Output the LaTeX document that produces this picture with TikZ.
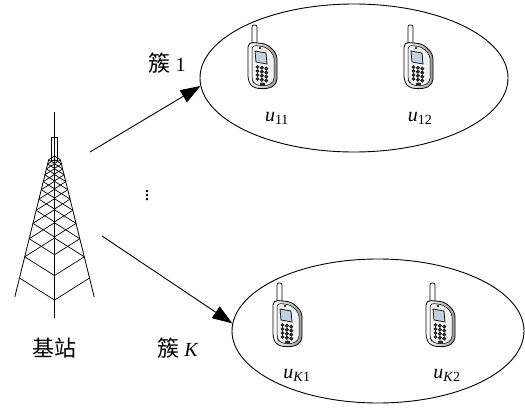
\documentclass[tikz,border=0pt]{standalone}
\usepackage{fontspec}
\setmainfont{Liberation Serif}
\newfontfamily\cjk[Scale=1.1]{Noto Sans CJK SC}
\usetikzlibrary{arrows.meta,shapes.geometric}

\definecolor{screenblue}{RGB}{196,208,220}
\definecolor{keygray}{RGB}{55,55,55}

\tikzset{
  cluster/.style={draw, ellipse, line width=0.9pt, minimum width=308pt, minimum height=148pt, inner sep=0pt},
  link/.style={line width=0.9pt, -{Triangle[length=20pt,width=14pt]}},
  lbl/.style={font=\fontsize{20}{24}\selectfont, inner sep=0pt},
  cellphone/.pic={
    % antenna
    \draw[line width=0.7pt, fill=white, rounded corners=2pt] (-10,-37) rectangle (-5,-17);
    % body, seen a little from the left
    \draw[line width=0.8pt, rounded corners=5pt, left color=white, right color=black!40]
      (-14,-20) -- (5,-18) -- (15,-8) -- (15,22) -- (6,27) -- (-9,26) -- (-14,19) -- cycle;
    \draw[line width=0.5pt, rounded corners=4pt, fill=black!5]
      (-10,-17) -- (4,-15) -- (12,-7) -- (12,20) -- (5,24) -- (-7,23) -- (-10,18) -- cycle;
    \fill (-2,-14) circle (1.2pt);
    % screen
    \draw[line width=0.7pt, fill=screenblue] (-7,-11) -- (4,-9) -- (5,2) -- (-6,0) -- cycle;
    % keypad
    \foreach \r in {0,...,3}
      \foreach \c in {0,1,2}
        \draw[line width=0.4pt, fill=keygray] (-4.5+\c*4.4,5+\r*4+\c*0.8) circle (1.7pt);
    \draw[line width=0.4pt, fill=keygray] (0.5,22) ellipse (2.4pt and 1.2pt);
  }
}

\begin{document}
\begin{tikzpicture}[x=1pt, y=-1pt]
\useasboundingbox (0,0) rectangle (525,412);

% base station tower
\draw[line width=0.8pt] (48.6,160) -- (14.8,297);
\draw[line width=0.8pt] (60.4,160) -- (94.2,297);
\draw[line width=1.3pt] (54.5,112) -- (54.5,137);
\draw[line width=0.8pt, fill=white] (51.5,137) rectangle (57.5,160);
\draw[line width=0.8pt] (54.5,137) -- (54.5,318);
% lattice: one V and one inverted V per level
\foreach \k in {0,...,11}{
  \pgfmathsetmacro\d{142.4*0.851^\k}
  \pgfmathsetmacro\y{135.6+\d}
  \pgfmathsetmacro\hw{0.2458*\d}
  \pgfmathsetmacro\dn{\y+0.155*\d}
  \pgfmathsetmacro\up{\y-0.155*\d}
  \draw[line width=0.7pt] (54.5-\hw,\y) -- (54.5,\dn) -- (54.5+\hw,\y);
  \ifnum\k>0
    \draw[line width=0.7pt] (54.5-\hw,\y) -- (54.5,\up) -- (54.5+\hw,\y);
  \fi
}
\coordinate (bs1) at (90,152);
\coordinate (bsK) at (102,236);
\node[lbl] (bs) at (54,348) {\cjk 基站};

% clusters
\node[cluster] (c1) at (354,78) {};
\node[cluster, minimum width=292pt, minimum height=144pt] (cK) at (378,331) {};

\pic at (262,62) {cellphone};
\pic at (418,62) {cellphone};
\pic at (287,320) {cellphone};
\pic at (440,320) {cellphone};

\node[lbl] (u11) at (277,118) {\textit{u}\textsubscript{11}};
\node[lbl] (u12) at (420,118) {\textit{u}\textsubscript{12}};
\node[lbl] (uK1) at (297,375) {\textit{u}\textsubscript{\textit{K}1}};
\node[lbl] (uK2) at (447,375) {\textit{u}\textsubscript{\textit{K}2}};

% links to the clusters
\draw[link] (bs1) -- (c1.183);
\draw[link] (bsK) -- (cK.177);
\node[lbl] (l1) at (167,63) {{\cjk 簇} 1};
\node[lbl] (lK) at (178,348) {{\cjk 簇} \textit{K}};
\node[lbl] (dots) at (147,193) {$\vdots$};

\end{tikzpicture}
\end{document}
